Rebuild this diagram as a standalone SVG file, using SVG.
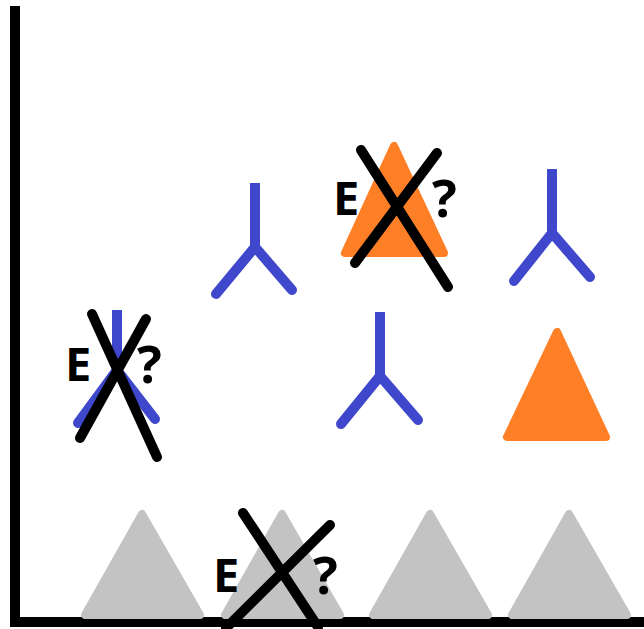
<svg xmlns="http://www.w3.org/2000/svg" width="644" height="629" viewBox="0 0 644 629">
<style>
.tri{stroke-width:8;stroke-linejoin:round}
.orange{fill:#ff7f27;stroke:#ff7f27}
.gray{fill:#c3c3c3;stroke:#c3c3c3}
.stem{fill:none;stroke:#3f48cc;stroke-width:10}
.ab{fill:none;stroke:#3f48cc;stroke-width:10;stroke-linecap:round}
.x{fill:none;stroke:#000;stroke-width:10;stroke-linecap:round}
.t{font-family:"Open Sans","DejaVu Sans",sans-serif;font-size:47px;font-weight:700;fill:#000}
.q{font-size:52px}
</style>
<rect width="644" height="629" fill="#fff"/>
<g id="axes"><path d="M15 6V622H644" fill="none" stroke="#000" stroke-width="10"/></g>
<g id="gray1"><path class="tri gray" d="M142 514L85 615H200Z"/></g>
<g id="gray2"><path class="tri gray" d="M282 514L225 615H340Z"/></g>
<g id="gray3"><path class="tri gray" d="M430 514L373 615H488Z"/></g>
<g id="gray4"><path class="tri gray" d="M569 514L512 615H627Z"/></g>
<g id="orange1"><path class="tri orange" d="M394 146L345 253H444Z"/></g>
<g id="orange2"><path class="tri orange" d="M557 332L507 437H606Z"/></g>
<g id="ab1"><path class="stem" d="M255 183V249"/><path class="ab" d="M255 247L216 294M255 247L292 290"/></g>
<g id="ab2"><path class="stem" d="M552 169V235"/><path class="ab" d="M552 233L514 281M552 233L590 277"/></g>
<g id="ab3"><path class="stem" d="M380 312V378"/><path class="ab" d="M380 376L341 424M380 376L418 420"/></g>
<g id="ab4"><path class="stem" d="M117 310V372"/><path class="ab" d="M117 370L78 423M117 370L155 419"/></g>
<g id="labels">
<text class="t" x="333" y="215">E</text><text class="t q" x="432" y="217">?</text>
<text class="t" x="65" y="381">E</text><text class="t q" x="137" y="383">?</text>
<text class="t" x="213" y="592">E</text><text class="t q" x="313" y="594">?</text>
</g>
<g id="connectors">
<path class="x" d="M361 150L448 287M437 153L355 263"/>
<path class="x" d="M92 314L157 457M146 319L80 438"/>
<path class="x" d="M243 513L318 627M330 525L226 628"/>
</g>
</svg>
